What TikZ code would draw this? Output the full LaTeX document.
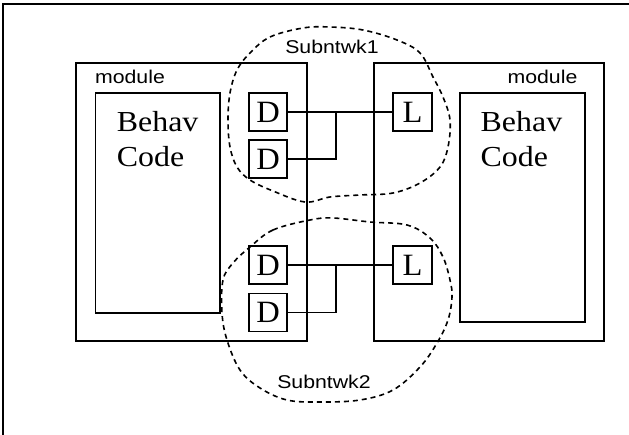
\documentclass[tikz,border=0pt]{standalone}
\usepackage{fontspec}
\setmainfont{Liberation Serif}
\setsansfont{Liberation Sans}
\newfontfamily\labelfont{Liberation Sans}
\begin{document}
\begin{tikzpicture}[x=1pt,y=-1pt,
  frame/.style={draw, line width=1.6pt, inner sep=0pt},
  port/.style={draw, line width=1.6pt, inner sep=0pt, minimum width=38pt, minimum height=38pt,
    font=\fontsize{31}{31}\selectfont},
  wire/.style={line width=1.6pt},
  subnet/.style={line width=1.6pt, dash pattern=on 5pt off 4pt},
  tag/.style={inner sep=0pt, font=\labelfont\fontsize{18.5}{18.5}\selectfont},
  code/.style={inner sep=0pt, anchor=base west, font=\fontsize{29}{29}\selectfont}]
\useasboundingbox (0,0) rectangle (629,435);
\fill[white] (0,0) rectangle (629,435);

% outer frame (top and left edges)
\draw[line width=2.2pt] (3,435) -- (3,4) -- (629,4);

% modules
\node[frame, minimum width=231pt, minimum height=278pt] (modA) at (191.5,202) {};
\node[frame, minimum width=230pt, minimum height=278pt] (modB) at (489,202) {};
\node[frame, minimum width=124.5pt, minimum height=220pt] (behA) at (157.75,203) {};
\node[frame, minimum width=125pt, minimum height=229pt] (behB) at (522.5,207.5) {};

\node[tag] (modAlbl) at (130,77) {\scalebox{1.15}[1]{module}};
\node[tag] (modBlbl) at (542.5,77) {\scalebox{1.15}[1]{module}};

\node[code] (behAt1) at (116.7,131.7) {\scalebox{1.1}[1]{Behav}};
\node[code] (behAt2) at (116.7,166.7) {\scalebox{1.1}[1]{Code}};
\node[code] (behBt1) at (480.5,131.7) {\scalebox{1.1}[1]{Behav}};
\node[code] (behBt2) at (480.5,166.7) {\scalebox{1.1}[1]{Code}};

% ports
\node[port] (d1) at (268,112) {\scalebox{1.05}[1]{D}};
\node[port] (d2) at (268,159) {\scalebox{1.05}[1]{D}};
\node[port] (d3) at (268,265) {\scalebox{1.05}[1]{D}};
\node[port] (d4) at (268,312.5) {\scalebox{1.05}[1]{D}};
\node[port, minimum width=39pt] (l1) at (412.5,112) {\scalebox{1.05}[1]{L}};
\node[port, minimum width=39pt] (l2) at (412.5,265) {\scalebox{1.05}[1]{L}};

% wiring
\coordinate (j1) at (336,112);
\coordinate (j2) at (336,265);
\draw[wire] (d1.east) -- (l1.west);
\draw[wire] (d2.east) -| (j1);
\draw[wire] (d3.east) -- (l2.west);
\draw[wire] (d4.east) -| (j2);

% subnetwork outlines
\draw[subnet] plot[smooth cycle, tension=0.6] coordinates {
  (250,53) (270,37) (303,28) (330,27) (363,30) (397,40) (420,53) (433,77)
  (443,97) (450,120) (448,147) (440,167) (420,183) (393,193) (360,195)
  (330,197) (305,202) (273,191) (250,180) (237,167) (230,147) (228,120)
  (230,93) (237,70)};
\draw[subnet] plot[smooth cycle, tension=0.6] coordinates {
  (250,247) (273,230) (310,220) (333,218) (370,222) (407,225) (430,238)
  (443,257) (450,280) (452,297) (448,320) (437,343) (420,367) (393,390)
  (360,400) (320,402) (287,400) (260,388) (240,370) (227,340) (222,313)
  (223,280) (233,263)};

\node[tag] (sn1) at (332,47) {\scalebox{1.15}[1]{Subntwk1}};
\node[tag] (sn2) at (324,382) {\scalebox{1.15}[1]{Subntwk2}};
\end{tikzpicture}
\end{document}
